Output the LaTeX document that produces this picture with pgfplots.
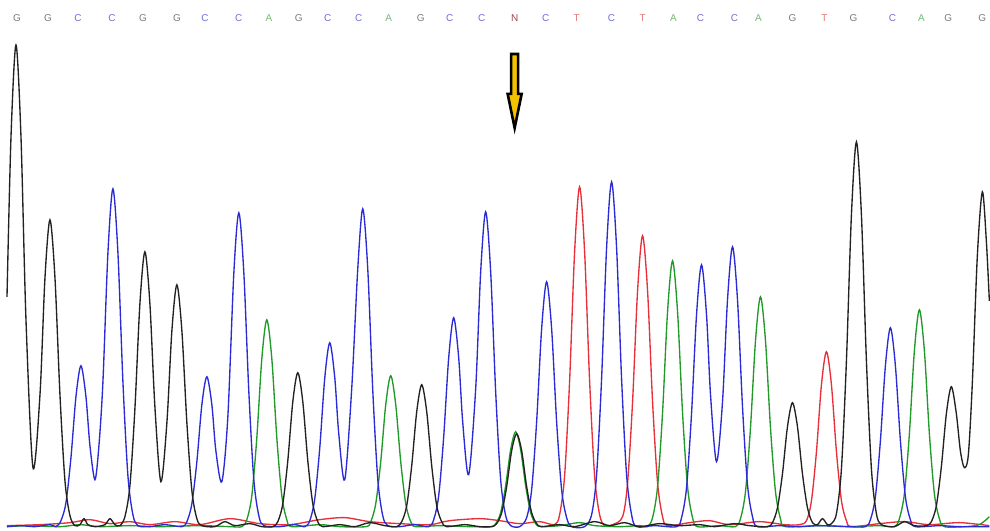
\documentclass[border=0pt]{standalone}
\usepackage{fontspec}
\setmainfont{Liberation Sans}
\usepackage{pgfplots}
\pgfplotsset{compat=1.18}
\definecolor{trK}{HTML}{222222}
\definecolor{trB}{HTML}{2B2BD6}
\definecolor{trG}{HTML}{229A2A}
\definecolor{trR}{HTML}{E8303A}
\definecolor{lG}{HTML}{7A7A7A}
\definecolor{lC}{HTML}{6E6EDA}
\definecolor{lA}{HTML}{74B874}
\definecolor{lT}{HTML}{E27A7A}
\definecolor{lN}{HTML}{A04848}
\definecolor{arrowY}{HTML}{F2C200}
\begin{document}
\begin{tikzpicture}
\begin{axis}[width=990bp, height=531bp, scale only axis, hide axis,
  xmin=0, xmax=990, ymin=0, ymax=531, clip=false]
\path (axis cs:0,0) rectangle (axis cs:990,531);
% red trace
\addplot[trR, line width=1.35bp, smooth, tension=0.5] coordinates {
(7,5)(40,6)(70,8)(90,11)(110,7)(130,9)(150,6)(175,9)(200,6)(230,12)(260,7)(290,6)(320,11)(345,13)(370,9)(400,7)(430,6)(450,10)(480,12)(500,10)(520,7)(540,9)(555,6)
(560,16)(565,55)(570,150)(575,279)(580,344)(585,279)(590,150)(595,55)(600,16)(605,5)(613,6)
(623,14)(628,48)(633,129)(638,240)(643,295)(648,240)(653,129)(658,48)(663,14)(668,5)
(690,8)(710,10)(730,6)(760,9)(785,6)(800,6)
(807,10)(812,30)(817,79)(822,146)(827,179)(832,146)(837,79)(842,30)(847,10)(852,4)
(880,7)(905,9)(930,6)(960,8)(990,5)};
% green trace
\addplot[trG, line width=1.35bp, smooth, tension=0.5] coordinates {
(7,4)(30,5)(60,4)(80,6)(100,4)(130,5)(160,4)(200,5)(230,4)(242,4)
(247,11)(252,35)(257,93)(262,172)(267,211)(272,172)(277,93)(282,35)(287,11)(292,4)
(320,6)(340,4)(366,4)
(371,9)(376,27)(381,69)(386,126)(391,155)(396,126)(401,69)(406,27)(411,9)(416,4)
(440,5)(470,4)(491,4)
(496,7)(501,18)(506,45)(511,81)(516,99)(521,81)(526,45)(531,18)(536,7)(541,4)
(560,5)(580,8)(595,5)(620,4)(640,5)(648,4)
(653,13)(658,44)(663,118)(668,219)(673,270)(678,219)(683,118)(688,44)(693,13)(698,4)
(720,5)(736,4)
(741,12)(746,39)(751,103)(756,190)(761,234)(766,190)(771,103)(776,39)(781,12)(786,4)
(820,5)(850,4)(880,5)(895,4)
(900,12)(905,37)(910,97)(915,180)(920,221)(925,180)(930,97)(935,37)(940,12)(945,4)
(965,4)(980,6)(990,14)};
% blue trace
\addplot[trB, line width=1.35bp, smooth, tension=0.5] coordinates {
(7,4)(20,5)(35,4)(50,6)(56,4)
(61,10)(66,28)(71,73)(76,134)(81,165)(86,134)(90,85)(95,51)(99,85)
(103,149)(108,278)(113,342)(118,278)(123,149)(128,55)(133,16)(138,5)
(150,4)(165,6)(182,4)
(187,9)(192,27)(197,69)(202,126)(207,154)(212,126)(216,80)(222,49)(228,114)
(234,258)(239,318)(244,258)(249,139)(254,51)(259,15)(264,5)
(280,4)(295,6)(305,4)
(310,10)(315,32)(320,83)(325,153)(330,188)(335,153)(339,97)(345,51)(352,143)
(358,262)(363,322)(368,262)(373,141)(378,52)(383,15)(388,5)
(400,4)(415,6)(429,4)
(434,11)(439,35)(444,94)(449,173)(454,213)(459,173)(463,109)(469,56)(476,142)
(481,259)(486,319)(491,259)(496,139)(501,51)(506,15)(511,5)
(520,4)
(527,13)(532,41)(537,109)(542,202)(547,249)(552,202)(557,109)(562,41)(567,13)(572,4)
(585,4)
(592,16)(597,56)(602,152)(607,283)(612,349)(617,283)(622,152)(627,56)(632,16)(637,4)
(655,5)(677,4)
(682,13)(687,43)(692,117)(697,216)(702,266)(707,216)(711,136)(717,69)(723,129)
(728,231)(733,284)(738,231)(743,124)(748,46)(753,14)(758,4)
(780,5)(800,4)(820,5)(850,4)(866,4)
(871,11)(876,34)(881,90)(886,165)(891,203)(896,165)(901,90)(906,34)(911,11)(916,4)
(940,5)(960,4)(990,4)};
% black trace
\addplot[trK, line width=1.35bp, smooth, tension=0.5] coordinates {
(7,234)(11,394)(16,486)(21,394)(26,211)(33,63)
(40,136)(45,253)(50,311)(55,253)(60,136)(65,50)(70,15)(75,5)
(80,6)(84,12)(88,6)(95,4)(105,6)(110,12)(115,6)(120,5)
(125,14)(130,45)(135,122)(140,227)(145,279)(150,227)(155,124)(161,49)
(167,108)(172,200)(177,246)(182,200)(187,108)(192,40)(197,12)(202,5)
(215,4)(225,9)(235,5)(250,7)(262,4)(273,4)
(278,9)(283,27)(288,70)(293,129)(298,158)(303,129)(308,70)(313,27)(318,9)(323,4)
(340,6)(355,4)(370,8)(385,5)(397,4)
(402,9)(407,25)(412,65)(417,119)(422,146)(427,119)(432,65)(437,25)(442,9)(447,4)
(465,6)(480,4)(492,4)
(497,7)(502,18)(507,44)(512,80)(517,97)(522,80)(527,44)(532,18)(537,7)(542,4)
(560,6)(575,4)(595,9)(610,5)(625,8)(640,4)(660,7)(680,5)(700,6)(715,4)(735,7)(750,5)(768,4)
(773,8)(778,23)(783,57)(788,104)(793,128)(798,104)(803,57)(808,23)(813,8)(818,6)(823,12)(828,6)
(832,7)(837,17)(842,62)(847,170)(852,316)(857,389)(862,316)(867,170)(872,62)(877,17)(882,6)
(895,4)(905,9)(915,5)(927,5)
(932,9)(937,25)(942,64)(947,117)(952,144)(957,117)(961,80)(965,63)(969,76)
(973,148)(978,275)(983,339)(987,290)(990,230)};
% base letters
\begin{scope}[every node/.style={font=\fontsize{10}{10}\selectfont, inner sep=0pt}]
\node[text=lG] at (axis cs:17,513) {G};
\node[text=lG] at (axis cs:48,513) {G};
\node[text=lC] at (axis cs:78,513) {C};
\node[text=lC] at (axis cs:112,513) {C};
\node[text=lG] at (axis cs:143,513) {G};
\node[text=lG] at (axis cs:177,513) {G};
\node[text=lC] at (axis cs:205,513) {C};
\node[text=lC] at (axis cs:239,513) {C};
\node[text=lA] at (axis cs:269,513) {A};
\node[text=lG] at (axis cs:299,513) {G};
\node[text=lC] at (axis cs:328,513) {C};
\node[text=lC] at (axis cs:359,513) {C};
\node[text=lA] at (axis cs:389,513) {A};
\node[text=lG] at (axis cs:421,513) {G};
\node[text=lC] at (axis cs:450,513) {C};
\node[text=lC] at (axis cs:482,513) {C};
\node[text=lN] at (axis cs:515,513) {N};
\node[text=lC] at (axis cs:546,513) {C};
\node[text=lT] at (axis cs:577,513) {T};
\node[text=lC] at (axis cs:612,513) {C};
\node[text=lT] at (axis cs:643,513) {T};
\node[text=lA] at (axis cs:674,513) {A};
\node[text=lC] at (axis cs:701,513) {C};
\node[text=lC] at (axis cs:735,513) {C};
\node[text=lA] at (axis cs:759,513) {A};
\node[text=lG] at (axis cs:793,513) {G};
\node[text=lT] at (axis cs:825,513) {T};
\node[text=lG] at (axis cs:854,513) {G};
\node[text=lC] at (axis cs:893,513) {C};
\node[text=lA] at (axis cs:922,513) {A};
\node[text=lG] at (axis cs:949,513) {G};
\node[text=lG] at (axis cs:983,513) {G};
\end{scope}
% arrow
\filldraw[fill=arrowY, draw=black, line width=2.6bp, line join=miter]
 (axis cs:511.5,477) -- (axis cs:518.5,477) -- (axis cs:518.5,437) -- (axis cs:522,437)
 -- (axis cs:515,403) -- (axis cs:508,437) -- (axis cs:511.5,437) -- cycle;
\end{axis}
\end{tikzpicture}
\end{document}
